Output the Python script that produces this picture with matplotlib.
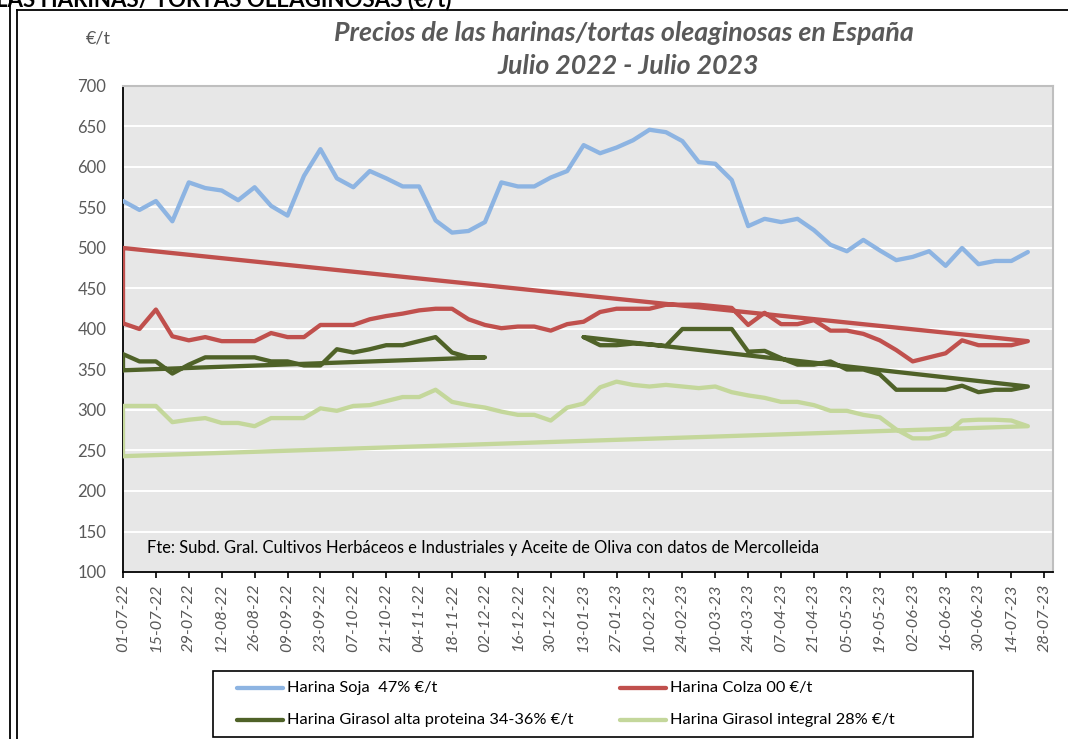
import matplotlib.pyplot as plt
import pandas as pd
import numpy as np
from matplotlib.lines import Line2D
from matplotlib.patches import Rectangle

plt.rcParams['font.family'] = ['Lato', 'DejaVu Sans']

# semanas: 01-07-22 ... 21-07-23
fechas = pd.date_range('2022-07-01', periods=56, freq='7D')

soja = [558, 547, 558, 533, 581, 574, 571, 559, 575, 552, 540, 589, 622, 586,
        575, 595, 586, 576, 576, 534, 519, 521, 532, 581, 576, 576, 587, 595,
        627, 617, 624, 633, 646, 643, 632, 606, 604, 584, 527, 536, 532, 536,
        522, 504, 496, 510, 497, 485, 489, 496, 478, 500, 480, 484, 484, 495]
colza = [407, 400, 424, 391, 386, 390, 385, 385, 385, 395, 390, 390, 405, 405,
         405, 412, 416, 419, 423, 425, 425, 412, 405, 401, 403, 403, 398, 406,
         409, 421, 425, 425, 425, 430, 430, 430, 428, 426, 405, 420, 406, 406,
         411, 398, 398, 394, 386, 374, 360, 365, 370, 386, 380, 380, 380, 385]
girasol_ap = [369, 360, 360, 345, 356, 365, 365, 365, 365, 360, 360, 355, 355, 375,
              371, 375, 380, 380, 385, 390, 371, 365, 365, None, None, None, None, None,
              390, 380, 380, 382, 381, 379, 400, 400, 400, 400, 372, 373, 364, 356,
              356, 360, 350, 350, 344, 325, 325, 325, 325, 330, 322, 325, 325, 329]
girasol_int = [305, 305, 305, 285, 288, 290, 284, 284, 280, 290, 290, 290, 302, 299,
               305, 306, 311, 316, 316, 325, 310, 306, 303, 298, 294, 294, 287, 303,
               308, 328, 335, 331, 329, 331, 329, 327, 329, 322, 318, 315, 310, 310,
               306, 299, 299, 294, 291, 276, 265, 265, 270, 287, 288, 288, 287, 280]

# valor del punto de cierre (vuelve al inicio de cada tramo)
cierre_colza = [500]
cierre_girasol_ap = [349, 390]
cierre_girasol_int = [243]

series = [
    ('Harina Soja  47% €/t', soja, None, '#8DB4E2'),
    ('Harina Colza 00 €/t', colza, cierre_colza, '#C0504D'),
    ('Harina Girasol alta proteina 34-36% €/t', girasol_ap, cierre_girasol_ap, '#4F6228'),
    ('Harina Girasol integral 28% €/t', girasol_int, cierre_girasol_int, '#C4D79B'),
]

W, H = 1068, 739
fig = plt.figure(figsize=(W / 100, H / 100), dpi=100)
ax = fig.add_axes([123 / W, 1 - 572 / H, 930 / W, (572 - 86) / H])
ax.set_facecolor('#E7E7E7')


def tramos(valores):
    out, cur = [], []
    for i, v in enumerate(valores):
        if v is None:
            if cur:
                out.append(cur)
            cur = []
        else:
            cur.append(i)
    if cur:
        out.append(cur)
    return out


for nombre, vals, cierre, color in series:
    for k, idx in enumerate(tramos(vals)):
        xs = [fechas[i] for i in idx]
        ys = [vals[i] for i in idx]
        if cierre is not None:
            xs = [xs[0]] + xs + [xs[0]]
            ys = [cierre[k]] + ys + [cierre[k]]
        ax.plot(xs, ys, color=color, lw=3.1, solid_joinstyle='round',
                solid_capstyle='round', zorder=3)

ax.set_ylim(100, 700)
ax.set_yticks(range(100, 701, 50))
ax.yaxis.grid(True, color='white', lw=1.4)
ax.set_axisbelow(True)

ticks = pd.date_range('2022-07-01', '2023-07-28', freq='14D')
ax.set_xticks(ticks)
ax.set_xticklabels([t.strftime('%d-%m-%y') for t in ticks], rotation=90,
                   style='italic', color='#595959', fontsize=11.8)
ax.set_xlim(fechas[0], fechas[0] + pd.Timedelta(days=395.7))

ax.tick_params(axis='x', direction='out', length=4, width=1.2, color='black', pad=4)
ax.tick_params(axis='y', length=0, pad=12, labelsize=12, labelcolor='#595959')

for s in ['top', 'right']:
    ax.spines[s].set_color('#BFBFBF')
    ax.spines[s].set_linewidth(1.5)
for s in ['left', 'bottom']:
    ax.spines[s].set_color('black')
    ax.spines[s].set_linewidth(1.3)

ax.text(147 / W, 1 - 548 / H,
        'Fte: Subd. Gral. Cultivos Herbáceos e Industriales y Aceite de Oliva con datos de Mercolleida',
        transform=fig.transFigure, ha='left', va='center', fontsize=11.9, color='black')

fig.text(624 / W, 1 - 33 / H, 'Precios de las harinas/tortas oleaginosas en España',
         ha='center', va='center', fontsize=19.3, weight='bold', style='italic', color='#595959')
fig.text(628 / W, 1 - 66 / H, 'Julio 2022 - Julio 2023',
         ha='center', va='center', fontsize=19.3, weight='bold', style='italic', color='#595959')
fig.text(98 / W, 1 - 38 / H, '€/t', ha='center', va='center', fontsize=13, color='#595959')

fig.text(452 / W, 1 - 6 / H, 'LAS HARINAS/ TORTAS OLEAGINOSAS (€/t)', ha='right',
         va='baseline', fontsize=16, weight='bold', color='black')

# marcos exteriores
fig.add_artist(Line2D([10 / W, 10 / W], [0, 1], color='black', lw=1.3))
fig.add_artist(Line2D([17 / W, 17 / W], [0, 1 - 10 / H], color='black', lw=1.3))
fig.add_artist(Line2D([17 / W, 1], [1 - 10 / H, 1 - 10 / H], color='black', lw=1.3))

# leyenda
fig.add_artist(Rectangle((213 / W, 1 - 737 / H), 760 / W, 66 / H, transform=fig.transFigure,
                         facecolor='white', edgecolor='black', lw=1.2))
pos = [(237, 688), (620, 688), (237, 720), (620, 720)]
for (nombre, vals, cierre, color), (px, py) in zip(series, pos):
    fig.add_artist(Line2D([px / W, (px + 46) / W], [1 - py / H] * 2, color=color, lw=3.1,
                          solid_capstyle='round'))
    fig.text((px + 50) / W, 1 - py / H, nombre, ha='left', va='center', fontsize=11.8)

fig.savefig('out.png', dpi=100)
